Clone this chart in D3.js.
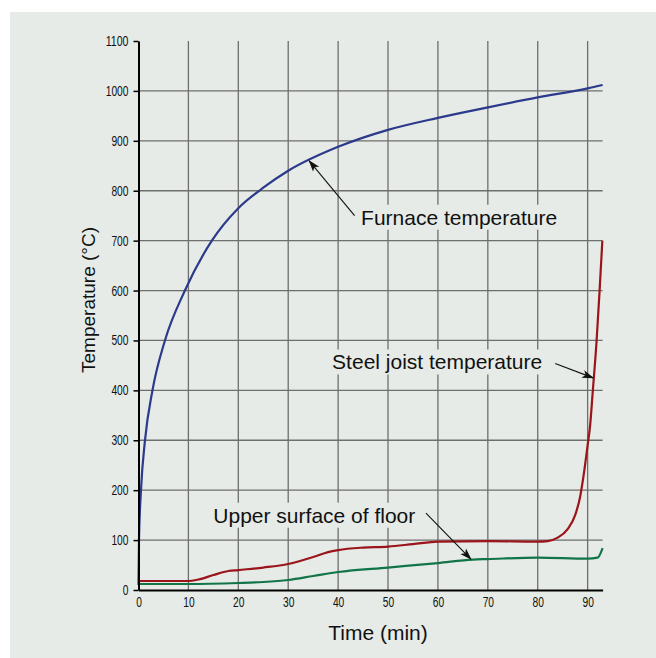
<!DOCTYPE html>
<html>
	<head>
		<meta charset="UTF-8" />
		<title>Fire test temperatures</title>
		<script src="https://cdn.jsdelivr.net/npm/d3@7"></script>
		<style>
			body {
				margin: 0;
				background: #fff;
			}
			svg {
				display: block;
			}
			.tick text {
				font-family: "Liberation Sans", Arial, sans-serif;
				font-size: 14px;
				fill: #111;
			}
			.label {
				font-family: "Liberation Sans", Arial, sans-serif;
				font-size: 21px;
				fill: #111;
			}
		</style>
	</head>
	<body>
		<svg width="656" height="658"></svg>

		<script>
			// time (min) and temperature (°C)
			const furnaceTime = [0, 0.1, 0.5, 1.3, 2.8, 5.3, 9.3, 14.7, 20, 25, 30, 40, 50, 60, 70, 80, 90, 93];
			const furnaceTemp = [10, 100, 200, 300, 400, 500, 600, 700, 765, 806, 840, 888, 922, 946, 967, 987, 1005, 1012];

			const steelTime = [0, 5, 10, 12, 15, 18, 20, 25, 30, 35, 38, 40, 45, 50, 55, 60, 70, 80, 82, 84, 86, 87.5, 88.5, 89.2, 90, 90.5, 91, 91.8, 92.4, 92.95];
			const steelTemp = [18, 18, 18, 21, 30, 38, 40, 45, 52, 66, 76, 80, 85, 87, 92, 97, 98, 97, 98, 105, 122, 150, 187, 230, 290, 330, 394, 500, 600, 700];

			const floorTime = [0, 10, 20, 25, 30, 35, 40, 50, 60, 67, 70, 80, 90, 92, 93];
			const floorTemp = [12, 12, 14, 16, 20, 28, 36, 45, 54, 61, 62, 65, 63, 65, 84];

			const xTicks = [0, 10, 20, 30, 40, 50, 60, 70, 80, 90];
			const yTicks = [0, 100, 200, 300, 400, 500, 600, 700, 800, 900, 1000, 1100];

			// annotation text anchor (t, v) and arrow from/to in data units
			const notes = [
				{ text: "Furnace temperature", at: [44.6, 747], from: [43.3, 750], to: [34.2, 860] },
				{ text: "Steel joist temperature", at: [38.8, 457], from: [83.5, 454], to: [91.1, 425] },
				{ text: "Upper surface of floor", at: [15, 150], from: [57.6, 154], to: [66.6, 62] },
			];

			const svg = d3.select("svg");
			const bg = "#e6ebe7";

			svg.append("rect").attr("x", 10).attr("y", 12).attr("width", 646).attr("height", 646).attr("fill", bg);

			const x = d3.scaleLinear().domain([0, 93]).range([138.5, 602.6]);
			const y = d3.scaleLinear().domain([0, 1100]).range([590, 41]);

			// grid
			svg.append("g")
				.selectAll("line")
				.data(xTicks.slice(1))
				.join("line")
				.attr("x1", (d) => x(d))
				.attr("x2", (d) => x(d))
				.attr("y1", y(1100))
				.attr("y2", y(0))
				.attr("stroke", "#6e6e6e")
				.attr("stroke-width", 1.3);

			svg.append("g")
				.selectAll("line")
				.data(yTicks.slice(1, -1))
				.join("line")
				.attr("x1", x(0))
				.attr("x2", x(93))
				.attr("y1", (d) => y(d))
				.attr("y2", (d) => y(d))
				.attr("stroke", "#6e6e6e")
				.attr("stroke-width", 1.3);

			// text backgrounds that hide the grid
			const maskG = svg.append("g");

			// curves
			const line = d3
				.line()
				.x((d) => x(d[0]))
				.y((d) => y(d[1]))
				.curve(d3.curveMonotoneX);

			const series = [
				{ t: floorTime, v: floorTemp, color: "#127548" },
				{ t: steelTime, v: steelTemp, color: "#9a1419" },
				{ t: furnaceTime, v: furnaceTemp, color: "#2c3a8c" },
			];

			series.forEach((s) => {
				svg.append("path")
					.datum(s.t.map((t, i) => [t, s.v[i]]))
					.attr("d", line)
					.attr("fill", "none")
					.attr("stroke", s.color)
					.attr("stroke-width", 2.2);
			});

			// axes
			const yAxis = svg
				.append("g")
				.attr("transform", `translate(${x(0)},0)`)
				.call(
					d3.axisLeft(y).tickValues(yTicks).tickFormat(d3.format("d")).tickSize(5).tickSizeOuter(0).tickPadding(5)
				);
			const xAxis = svg
				.append("g")
				.attr("transform", `translate(0,${y(0)})`)
				.call(
					d3.axisBottom(x).tickValues(xTicks).tickFormat(d3.format("d")).tickSize(0).tickSizeOuter(0).tickPadding(7)
				);

			yAxis.select(".domain").attr("stroke", "#000").attr("stroke-width", 2);
			yAxis.selectAll(".tick line").attr("stroke", "#000").attr("stroke-width", 1.5);
			xAxis.select(".domain").attr("stroke", "#000").attr("stroke-width", 2);

			// condensed look of the tick labels
			svg.selectAll(".tick text").each(function () {
				const s = d3.select(this);
				s.attr("textLength", s.text().length * 5.7).attr("lengthAdjust", "spacingAndGlyphs");
			});

			svg.append("text")
				.attr("class", "label")
				.attr("text-anchor", "middle")
				.attr("x", 378)
				.attr("y", 640)
				.text("Time (min)");

			svg.append("text")
				.attr("class", "label")
				.attr("text-anchor", "middle")
				.style("font-size", "19px")
				.attr("transform", "translate(95,300) rotate(-90)")
				.text("Temperature (°C)");

			// annotations
			svg.append("defs")
				.append("marker")
				.attr("id", "arr")
				.attr("viewBox", "0 0 12 10")
				.attr("refX", 11)
				.attr("refY", 5)
				.attr("markerWidth", 12)
				.attr("markerHeight", 10)
				.attr("markerUnits", "userSpaceOnUse")
				.attr("orient", "auto")
				.append("path")
				.attr("d", "M0,1 L12,5 L0,9 L3,5 z")
				.attr("fill", "#111");

			notes.forEach((n) => {
				const t = svg
					.append("text")
					.attr("class", "label")
					.attr("x", x(n.at[0]))
					.attr("y", y(n.at[1]))
					.attr("dy", "0.36em")
					.text(n.text);
				const b = t.node().getBBox();
				maskG
					.append("rect")
					.attr("x", b.x - 5)
					.attr("y", b.y - 1)
					.attr("width", b.width + 10)
					.attr("height", b.height + 2)
					.attr("fill", bg);
				svg.append("line")
					.attr("x1", x(n.from[0]))
					.attr("y1", y(n.from[1]))
					.attr("x2", x(n.to[0]))
					.attr("y2", y(n.to[1]))
					.attr("stroke", "#111")
					.attr("stroke-width", 1.1)
					.attr("marker-end", "url(#arr)");
			});
		</script>
	</body>
</html>
